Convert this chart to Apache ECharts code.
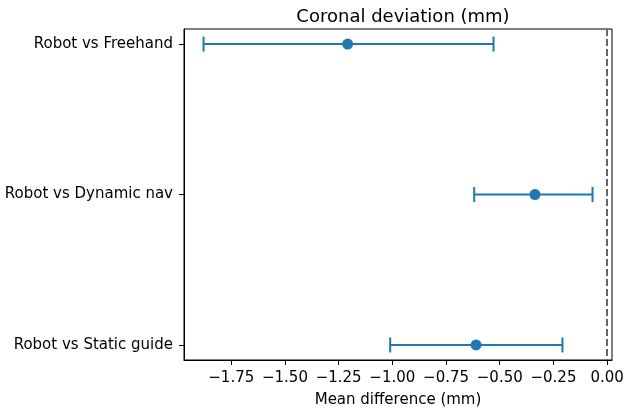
<!DOCTYPE html>
<html>
<head>
<meta charset="utf-8">
<script src="https://cdn.jsdelivr.net/npm/echarts@6/dist/echarts.min.js"></script>
<style>
  html, body { margin: 0; padding: 0; background: #fff; }
  #main { width: 628px; height: 412px; }
</style>
</head>
<body>
<div id="main"></div>
<script>
// comparisons, top to bottom
var categories = ['Robot vs Freehand', 'Robot vs Dynamic nav', 'Robot vs Static guide'];
var meanDiff = [-1.208, -0.336, -0.610];
var lowerCI = [-1.879, -0.619, -1.010];
var upperCI = [-0.529, -0.068, -0.208];
var xTicks = [-1.75, -1.5, -1.25, -1.0, -0.75, -0.5, -0.25, 0.0];

var blue = '#1f77b4';
var font = 'DejaVu Sans';

var barData = categories.map(function (c, i) { return [lowerCI[i], upperCI[i], i]; });
var dotData = categories.map(function (c, i) { return [meanDiff[i], i]; });

function fmt(v) {
    return v.toFixed(2).replace('-', '\u2212');
}

var myChart = echarts.init(document.getElementById('main'));
var option = {
    backgroundColor: '#ffffff',
    animation: false,
    title: {
        text: 'Coronal deviation (mm)',
        left: 398,
        top: 3,
        textAlign: 'center',
        textStyle: { fontFamily: font, fontSize: 18, fontWeight: 'normal', color: '#000' }
    },
    grid: {
        left: 184, right: 16, top: 29, bottom: 52,
        outerBoundsMode: 'none', containLabel: false,
        show: true, borderColor: '#000', borderWidth: 1, backgroundColor: 'transparent'
    },
    xAxis: {
        type: 'value',
        min: -1.970,
        max: 0.0226,
        name: 'Mean difference (mm)',
        nameLocation: 'middle',
        nameGap: 33,
        nameTextStyle: { fontFamily: font, fontSize: 15, color: '#000' },
        splitLine: { show: false },
        axisLine: { onZero: false, lineStyle: { color: '#000', width: 1 } },
        axisTick: { customValues: xTicks, length: 5, lineStyle: { color: '#000' } },
        axisLabel: {
            customValues: xTicks,
            formatter: fmt,
            fontFamily: font, fontSize: 15, color: '#000', margin: 11
        }
    },
    yAxis: {
        type: 'value',
        min: -0.1,
        max: 2.1,
        inverse: true,
        splitLine: { show: false },
        axisLine: { show: true, onZero: false, lineStyle: { color: '#000', width: 1 } },
        axisTick: { customValues: [0, 1, 2], length: 5, lineStyle: { color: '#000' } },
        axisLabel: {
            customValues: [0, 1, 2],
            formatter: function (v) { return categories[Math.round(v)]; },
            fontFamily: font, fontSize: 15, color: '#000', margin: 11
        }
    },
    series: [
        {
            type: 'custom',
            data: barData,
            renderItem: function (params, api) {
                var a = api.coord([api.value(0), api.value(2)]);
                var b = api.coord([api.value(1), api.value(2)]);
                var cap = 7.5;
                var st = { stroke: blue, lineWidth: 2 };
                return {
                    type: 'group',
                    children: [
                        { type: 'line', shape: { x1: a[0], y1: a[1], x2: b[0], y2: b[1] }, style: st },
                        { type: 'line', shape: { x1: a[0], y1: a[1] - cap, x2: a[0], y2: a[1] + cap }, style: st },
                        { type: 'line', shape: { x1: b[0], y1: b[1] - cap, x2: b[0], y2: b[1] + cap }, style: st }
                    ]
                };
            },
            z: 2
        },
        {
            type: 'scatter',
            data: dotData,
            symbol: 'circle',
            symbolSize: 11,
            itemStyle: { color: blue, opacity: 1 },
            z: 3,
            markLine: {
                silent: true,
                symbol: 'none',
                label: { show: false },
                lineStyle: { color: '#666666', type: [7, 3], width: 2 },
                data: [{ xAxis: 0 }]
            }
        }
    ]
};
myChart.setOption(option);
</script>
</body>
</html>
